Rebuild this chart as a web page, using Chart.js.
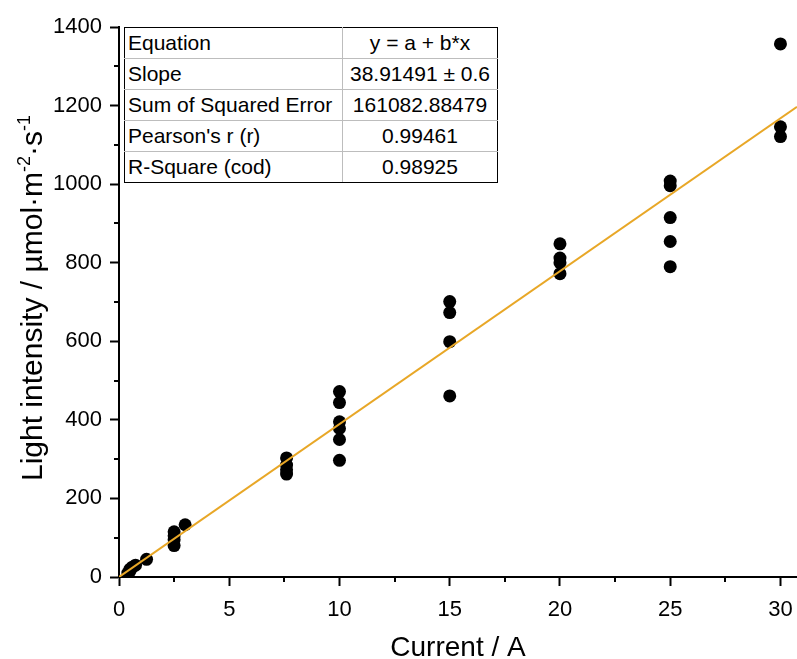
<!DOCTYPE html>
<html>
<head>
<meta charset="utf-8">
<script src="https://cdn.jsdelivr.net/npm/chart.js@4/dist/chart.umd.min.js"></script>
<style>
  html, body { margin: 0; padding: 0; background: #fff; }
  #wrap { position: relative; width: 797px; height: 659px; }
  #c { position: absolute; left: 0; top: 0; }
  #stats {
    position: absolute; left: 124px; top: 27px; width: 374px; height: 154px;
    border-collapse: collapse; font-family: "Liberation Sans", Arial, sans-serif;
    font-size: 21px; color: #000; background: #fff; border: 1px solid #000;
    table-layout: fixed;
  }
  #stats td { border: 1px solid #bdbdbd; padding: 0 3px; height: 30px; line-height: 30px; white-space: nowrap; overflow: hidden; }
  #stats td.v { text-align: center; }
  #stats tr:first-child td { border-top: 1px solid #000; }
  #stats tr:last-child td { border-bottom: 1px solid #000; }
  #stats td:first-child { border-left: 1px solid #000; width: 211px; }
  #stats td:last-child { border-right: 1px solid #000; }
</style>
</head>
<body>
<div id="wrap">
  <canvas id="c" width="797" height="659"></canvas>
  <table id="stats"></table>
</div>
<script>
// ---- data ----
const currentA = [0.4, 0.5, 0.5, 0.6, 0.75, 1.25,
  2.5, 2.5, 2.5, 2.5, 3.0,
  7.6, 7.6, 7.6, 7.6,
  10, 10, 10, 10, 10, 10,
  15, 15, 15, 15,
  20, 20, 20, 20,
  25, 25, 25, 25, 25,
  30, 30, 30];
const lightIntensity = [10, 15, 20, 25, 30, 45,
  115, 105, 95, 80, 133,
  303, 285, 273, 262,
  472, 444, 395, 378, 350, 297,
  701, 673, 599, 461,
  848, 812, 800, 772,
  1008, 996, 915, 854, 790,
  1357, 1146, 1121];
const fitSlope = 38.91491;
const fitIntercept = 0;
const xTicks = [0, 5, 10, 15, 20, 25, 30];
const xMinorTicks = [2.5, 7.5, 12.5, 17.5, 22.5, 27.5];
const yTicks = [0, 200, 400, 600, 800, 1000, 1200, 1400];
const yMinorTicks = [100, 300, 500, 700, 900, 1100, 1300];
const tableLabels = ["Equation", "Slope", "Sum of Squared Error", "Pearson's r (r)", "R-Square (cod)"];
const tableValues = ["y = a + b*x", "38.91491 ± 0.6", "161082.88479", "0.99461", "0.98925"];
const xTitle = "Current / A";
const yTitleParts = [["Light intensity / µmol·m", false], ["-2", true], ["·s", false], ["-1", true]];

const X_MIN = 0, X_MAX = 30.75, Y_MIN = 0, Y_MAX = 1400;
const FONT = '"Liberation Sans", Arial, sans-serif';

// table
const tbl = document.getElementById('stats');
tableLabels.forEach((lab, i) => {
  const tr = document.createElement('tr');
  const a = document.createElement('td'); a.textContent = lab;
  const b = document.createElement('td'); b.textContent = tableValues[i]; b.className = 'v';
  tr.appendChild(a); tr.appendChild(b); tbl.appendChild(tr);
});

const points = currentA.map((x, i) => ({ x: x, y: lightIntensity[i] }));
const fitPts = [X_MIN, X_MAX].map(x => ({ x: x, y: fitIntercept + fitSlope * x }));

const extras = {
  id: 'extras',
  afterDraw(chart) {
    const ctx = chart.ctx;
    const xs = chart.scales.x, ys = chart.scales.y;
    const ca = chart.chartArea;
    ctx.save();
    ctx.strokeStyle = '#000';
    ctx.lineWidth = 2;
    ctx.beginPath();
    xMinorTicks.forEach(v => { const p = Math.round(xs.getPixelForValue(v)); ctx.moveTo(p, ca.bottom); ctx.lineTo(p, ca.bottom + 5); });
    yMinorTicks.forEach(v => { const p = Math.round(ys.getPixelForValue(v)); ctx.moveTo(ca.left, p); ctx.lineTo(ca.left - 5, p); });
    ctx.stroke();
    // y title with superscripts
    ctx.fillStyle = '#000';
    ctx.translate(42, 298);
    ctx.rotate(-Math.PI / 2);
    ctx.textBaseline = 'alphabetic';
    let total = 0;
    const segs = yTitleParts.map(([t, sup]) => {
      ctx.font = (sup ? '18px ' : '30px ') + FONT;
      const w = ctx.measureText(t).width; total += w; return { t, sup, w };
    });
    let x = -total / 2;
    segs.forEach(s => {
      ctx.font = (s.sup ? '18px ' : '30px ') + FONT;
      ctx.fillText(s.t, x, s.sup ? -12 : 0);
      x += s.w;
    });
    ctx.restore();
  }
};

new Chart(document.getElementById('c'), {
  data: {
    datasets: [
      { type: 'line', data: fitPts, borderColor: '#e8a727', borderWidth: 2, pointRadius: 0, order: 0, tension: 0 },
      { type: 'scatter', data: points, backgroundColor: '#000', borderColor: '#000', pointRadius: 6.5, borderWidth: 0, order: 1 }
    ]
  },
  options: {
    responsive: false,
    animation: false,
    events: [],
    layout: { autoPadding: false, padding: { top: 27, right: 0, left: 0, bottom: 0 } },
    plugins: { legend: { display: false }, tooltip: { enabled: false } },
    scales: {
      x: {
        type: 'linear', min: X_MIN, max: X_MAX,
        afterBuildTicks: s => { s.ticks = xTicks.map(v => ({ value: v })); },
        afterFit: s => { s.height = 82; s.paddingLeft = 0; s.paddingRight = 0; },
        border: { display: true, color: '#000', width: 2 },
        grid: { display: true, drawOnChartArea: false, drawTicks: true, tickLength: 9, tickColor: '#000', tickWidth: 2 },
        ticks: { color: '#000', font: { family: FONT, size: 22 }, padding: 11, maxRotation: 0, autoSkip: false,
                 callback: v => String(v) },
        title: { display: true, text: xTitle, color: '#000', font: { family: FONT, size: 28 }, padding: { top: 0, bottom: -6 } }
      },
      y: {
        type: 'linear', min: Y_MIN, max: Y_MAX,
        afterBuildTicks: s => { s.ticks = yTicks.map(v => ({ value: v })); },
        afterFit: s => { s.width = 119; s.paddingTop = 0; s.paddingBottom = 0; },
        border: { display: true, color: '#000', width: 2 },
        grid: { display: true, drawOnChartArea: false, drawTicks: true, tickLength: 9, tickColor: '#000', tickWidth: 2 },
        ticks: { color: '#000', font: { family: FONT, size: 22 }, padding: 8, autoSkip: false,
                 callback: v => String(v) }
      }
    }
  },
  plugins: [extras]
});
</script>
</body>
</html>
